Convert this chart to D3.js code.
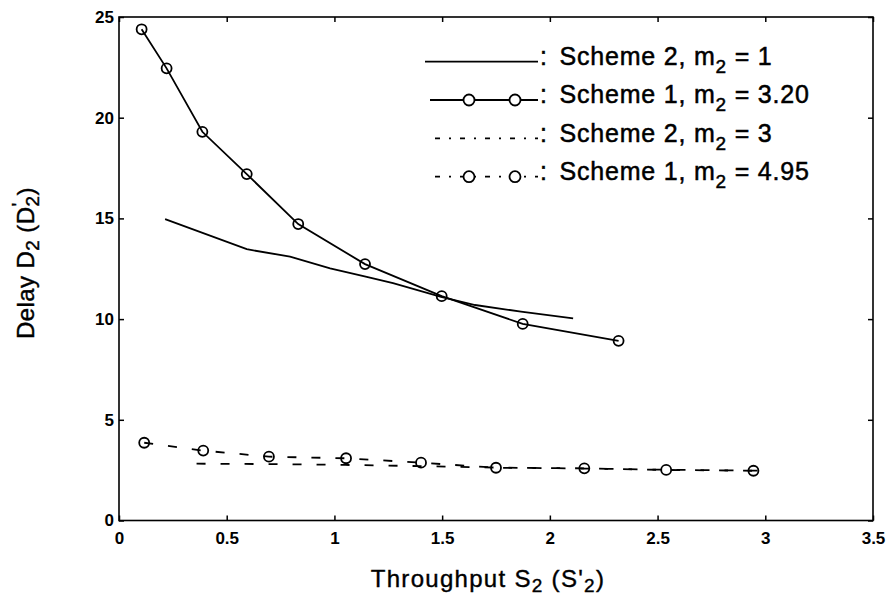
<!DOCTYPE html>
<html>
<head>
<meta charset="utf-8">
<script src="https://cdn.jsdelivr.net/npm/d3@7/dist/d3.min.js"></script>
<style>
  html, body { margin: 0; padding: 0; background: #fff; }
  svg { display: block; font-family: "Liberation Sans", Arial, Helvetica, sans-serif; }
</style>
</head>
<body>
<svg id="chart" width="891" height="601"></svg>
<script>
// ---- data ----
const xTicks = [0, 0.5, 1, 1.5, 2, 2.5, 3, 3.5];
const yTicks = [0, 5, 10, 15, 20, 25];

// Scheme 2, m2 = 1 (solid line)
const s2m1X = [0.214, 0.593, 0.794, 0.98, 1.15, 1.272, 1.495, 1.653, 1.866, 2.108];
const s2m1Y = [14.96, 13.47, 13.10, 12.52, 12.10, 11.79, 11.10, 10.70, 10.37, 10.04];

// Scheme 1, m2 = 3.20 (solid line with circles)
const s1m320X = [0.105, 0.221, 0.387, 0.593, 0.832, 1.142, 1.498, 1.874, 2.319];
const s1m320Y = [24.39, 22.45, 19.30, 17.20, 14.72, 12.73, 11.14, 9.76, 8.92];

// Scheme 2, m2 = 3 (dotted line)
const s2m3X = [0.36, 0.70, 1.05, 1.40, 1.75, 2.16, 2.54, 3.02];
const s2m3Y = [2.82, 2.80, 2.76, 2.70, 2.63, 2.58, 2.52, 2.47];

// Scheme 1, m2 = 4.95 (dotted line with circles)
const s1m495X = [0.117, 0.391, 0.696, 1.054, 1.402, 1.75, 2.16, 2.54, 2.945];
const s1m495Y = [3.86, 3.47, 3.17, 3.09, 2.87, 2.62, 2.59, 2.51, 2.47];

const legendMain = ["Scheme 2, m", "Scheme 1, m", "Scheme 2, m", "Scheme 1, m"];
const legendTail = [" = 1", " = 3.20", " = 3", " = 4.95"];

// ---- layout ----
const svg = d3.select("#chart");
const L = 119, R = 873, T = 17, B = 520.5;
const x = d3.scaleLinear().domain([0, 3.5]).range([L, R]);
const y = d3.scaleLinear().domain([0, 25]).range([B, T]);

const zip = (xs, ys) => xs.map((v, i) => [v, ys[i]]);
const line = d3.line().x(d => x(d[0])).y(d => y(d[1]));

// axes with inward ticks
const fmt = d => String(d);
const gx = svg.append("g").attr("transform", `translate(0,${B})`)
  .call(d3.axisBottom(x).tickValues(xTicks).tickSize(-5).tickPadding(11).tickFormat(fmt));
const gy = svg.append("g").attr("transform", `translate(${L},0)`)
  .call(d3.axisLeft(y).tickValues(yTicks).tickSize(-5).tickPadding(5).tickFormat(fmt));
const gt = svg.append("g").attr("transform", `translate(0,${T})`)
  .call(d3.axisTop(x).tickValues(xTicks).tickSize(-5).tickFormat(""));
const gr = svg.append("g").attr("transform", `translate(${R},0)`)
  .call(d3.axisRight(y).tickValues(yTicks).tickSize(-5).tickFormat(""));

[gx, gy, gt, gr].forEach(g => {
  g.select(".domain").remove();
  g.selectAll(".tick line").attr("stroke", "#000").attr("stroke-width", 1.5);
  g.selectAll(".tick text").attr("fill", "#000").attr("font-size", 17)
    .attr("font-weight", "bold").attr("font-family", "Liberation Sans, Arial, sans-serif");
});

svg.append("rect").attr("x", L).attr("y", T).attr("width", R - L).attr("height", B - T)
  .attr("fill", "none").attr("stroke", "#000").attr("stroke-width", 1.6);

// series
const series = [
  { data: zip(s2m1X, s2m1Y), dash: null, marker: false },
  { data: zip(s1m320X, s1m320Y), dash: null, marker: true },
  { data: zip(s2m3X, s2m3Y), dash: "9,15", marker: false },
  { data: zip(s1m495X, s1m495Y), dash: "9,15", marker: true }
];

series.forEach(s => {
  svg.append("path").datum(s.data).attr("d", line)
    .attr("fill", "none").attr("stroke", "#000").attr("stroke-width", 1.8)
    .attr("stroke-dasharray", s.dash);
  if (s.marker) {
    svg.append("g").selectAll("circle").data(s.data).join("circle")
      .attr("cx", d => x(d[0])).attr("cy", d => y(d[1])).attr("r", 5)
      .attr("fill", "none").attr("stroke", "#000").attr("stroke-width", 1.8);
  }
});

// legend
const legY = [61.7, 100, 138.3, 176.7];
const legX0 = [425, 430, 435, 435], legX1 = 538;
const legDash = [null, null, "5,9,2,9", "5,9,2,9"];
const legMarks = [false, true, false, true];
const lg = svg.append("g");
legY.forEach((ly, i) => {
  lg.append("line").attr("x1", legX0[i]).attr("x2", legX1).attr("y1", ly).attr("y2", ly)
    .attr("stroke", "#000").attr("stroke-width", 1.8).attr("stroke-dasharray", legDash[i]);
  if (legMarks[i]) {
    [469, 515].forEach(cx => lg.append("circle").attr("cx", cx).attr("cy", ly).attr("r", 5.5)
      .attr("fill", "#fff").attr("stroke", "#000").attr("stroke-width", 1.8));
  }
  const t = lg.append("text").attr("x", 540).attr("y", ly + 3.3)
    .attr("font-size", 25).attr("fill", "#000").attr("letter-spacing", 0.8)
    .attr("stroke", "#000").attr("stroke-width", 0.5);
  t.append("tspan").text(":");
  t.append("tspan").attr("dx", 4).text(" " + legendMain[i]);
  t.append("tspan").attr("font-size", 19).attr("dy", 8).text("2");
  t.append("tspan").attr("dy", -8).text(legendTail[i]);
});

// axis titles
const xt = svg.append("text").attr("x", 488).attr("y", 586.7).attr("text-anchor", "middle")
  .attr("font-size", 24).attr("fill", "#000").attr("letter-spacing", 1.3)
  .attr("stroke", "#000").attr("stroke-width", 0.4);
xt.append("tspan").text("Throughput S");
xt.append("tspan").attr("font-size", 19).attr("dy", 5).text("2");
xt.append("tspan").attr("dy", -5).text(" (S'");
xt.append("tspan").attr("font-size", 19).attr("dy", 5).text("2");
xt.append("tspan").attr("dy", -5).text(")");

const yt = svg.append("text").attr("transform", "translate(34,263) rotate(-90)")
  .attr("text-anchor", "middle").attr("font-size", 24).attr("fill", "#000")
  .attr("letter-spacing", 0.4).attr("stroke", "#000").attr("stroke-width", 0.4);
yt.append("tspan").text("Delay D");
yt.append("tspan").attr("font-size", 19).attr("dy", 5).text("2");
yt.append("tspan").attr("dy", -5).text(" (D");
yt.append("tspan").attr("font-size", 19).attr("dy", -9).text("'");
yt.append("tspan").attr("font-size", 19).attr("dy", 14).attr("dx", -4).text("2");
yt.append("tspan").attr("dy", -5).text(")");
</script>
</body>
</html>
